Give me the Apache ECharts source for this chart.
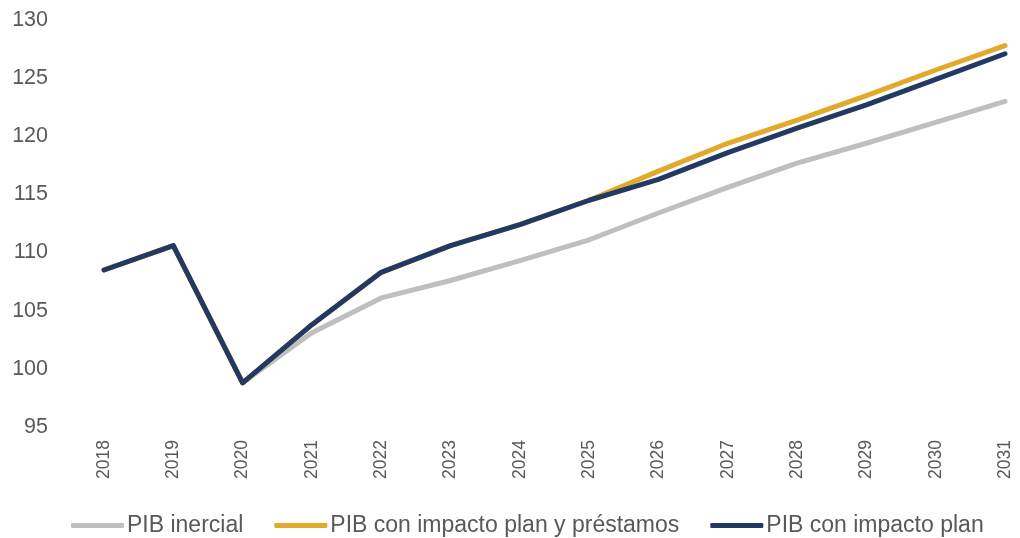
<!DOCTYPE html>
<html>
<head>
<meta charset="utf-8">
<script src="https://cdn.jsdelivr.net/npm/echarts@6/dist/echarts.min.js"></script>
<style>
html,body{margin:0;padding:0;background:#fff;}
#chart{width:1020px;height:538px;}
</style>
</head>
<body>
<div id="chart"></div>
<script>
const years = ['2018','2019','2020','2021','2022','2023','2024','2025','2026','2027','2028','2029','2030','2031'];
const pibInercial = [108.5, 110.6, 98.8, 103.1, 106.1, 107.6, 109.3, 111.1, 113.4, 115.6, 117.7, 119.4, 121.2, 123.0];
const pibPlanPrestamos = [108.5, 110.6, 98.8, 103.8, 108.3, 110.6, 112.4, 114.5, 117.0, 119.4, 121.4, 123.5, 125.7, 127.8];
const pibPlan = [108.5, 110.6, 98.8, 103.8, 108.3, 110.6, 112.4, 114.5, 116.3, 118.6, 120.7, 122.7, 124.9, 127.1];
const seriesNames = ['PIB inercial', 'PIB con impacto plan y préstamos', 'PIB con impacto plan'];
const colors = ['#BFBFBF', '#E2AA2A', '#213963'];

const chart = echarts.init(document.getElementById('chart'));
const font = 'Liberation Sans, Arial, sans-serif';
const mk = (name, data, color) => ({
  name: name,
  type: 'line',
  data: data,
  symbol: 'none',
  color: color,
  lineStyle: { width: 5, color: color, cap: 'round', join: 'round' },
  emphasis: { disabled: true }
});
chart.setOption({
  animation: false,
  backgroundColor: '#fff',
  grid: { left: 104, right: 15, top: 20, bottom: 111, containLabel: false },
  xAxis: {
    type: 'category',
    data: years,
    boundaryGap: false,
    axisLine: { show: false },
    axisTick: { show: false },
    splitLine: { show: false },
    axisLabel: { rotate: 90, margin: 13, color: '#595959', fontSize: 17.5, fontFamily: font, interval: 0 }
  },
  yAxis: {
    type: 'value',
    min: 95,
    max: 130,
    interval: 5,
    axisLine: { show: false },
    axisTick: { show: false },
    splitLine: { show: false },
    axisLabel: { margin: 56, color: '#595959', fontSize: 21.5, fontFamily: font }
  },
  legend: {
    left: 66,
    top: 509,
    itemWidth: 53,
    itemHeight: 5,
    itemGap: 31,
    icon: 'roundRect',
    data: seriesNames,
    textStyle: { color: '#595959', fontSize: 23, fontFamily: font, padding: [0, 0, 0, -2] }
  },
  series: [
    mk(seriesNames[0], pibInercial, colors[0]),
    mk(seriesNames[1], pibPlanPrestamos, colors[1]),
    mk(seriesNames[2], pibPlan, colors[2])
  ]
});
</script>
</body>
</html>
